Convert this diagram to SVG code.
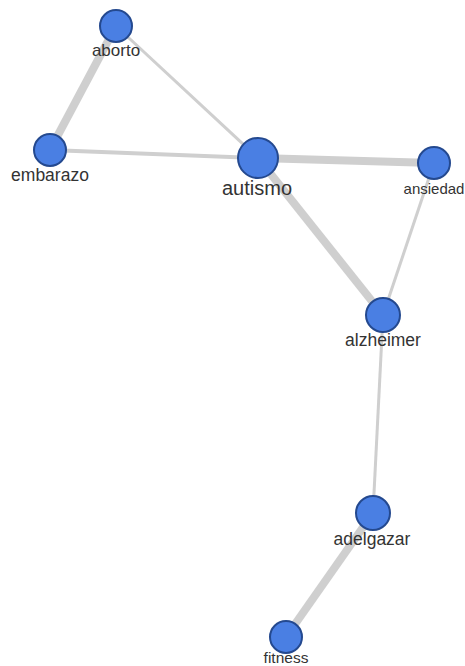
<svg xmlns="http://www.w3.org/2000/svg" width="465" height="666" viewBox="0 0 465 666">
<style>
.e{stroke:#cfcfcf;stroke-linecap:butt;fill:none}
.n circle{fill:#4a7fe3;stroke:#24498f;stroke-width:2}
.n text{font-family:"Liberation Sans",Arial,sans-serif;fill:#333;text-anchor:middle}
</style>
<rect width="465" height="666" fill="#fff"/>
<g id="edges">
<line class="e" x1="116" y1="26" x2="50" y2="150" stroke-width="8"/>
<line class="e" x1="116" y1="26" x2="258" y2="158" stroke-width="3"/>
<line class="e" x1="50" y1="150" x2="258" y2="158" stroke-width="4"/>
<line class="e" x1="258" y1="158" x2="434" y2="163" stroke-width="8"/>
<line class="e" x1="258" y1="158" x2="383" y2="315" stroke-width="8"/>
<line class="e" x1="434" y1="163" x2="383" y2="315" stroke-width="3"/>
<line class="e" x1="383" y1="315" x2="373" y2="513" stroke-width="3"/>
<line class="e" x1="373" y1="513" x2="286" y2="637" stroke-width="8"/>
</g>
<g id="aborto" class="n"><circle cx="116" cy="26" r="16"/><text x="116" y="56" font-size="17">aborto</text></g>
<g id="embarazo" class="n"><circle cx="50" cy="150" r="16"/><text x="50" y="181" font-size="17.5">embarazo</text></g>
<g id="autismo" class="n"><circle cx="258" cy="158" r="20"/><text x="257" y="195" font-size="20">autismo</text></g>
<g id="ansiedad" class="n"><circle cx="434" cy="163" r="16"/><text x="434" y="194" font-size="15">ansiedad</text></g>
<g id="alzheimer" class="n"><circle cx="383" cy="315" r="17"/><text x="383" y="346" font-size="17.5">alzheimer</text></g>
<g id="adelgazar" class="n"><circle cx="373" cy="513" r="17"/><text x="372" y="545" font-size="17.5">adelgazar</text></g>
<g id="fitness" class="n"><circle cx="286" cy="637" r="16"/><text x="286" y="663" font-size="15.5">fitness</text></g>
</svg>
